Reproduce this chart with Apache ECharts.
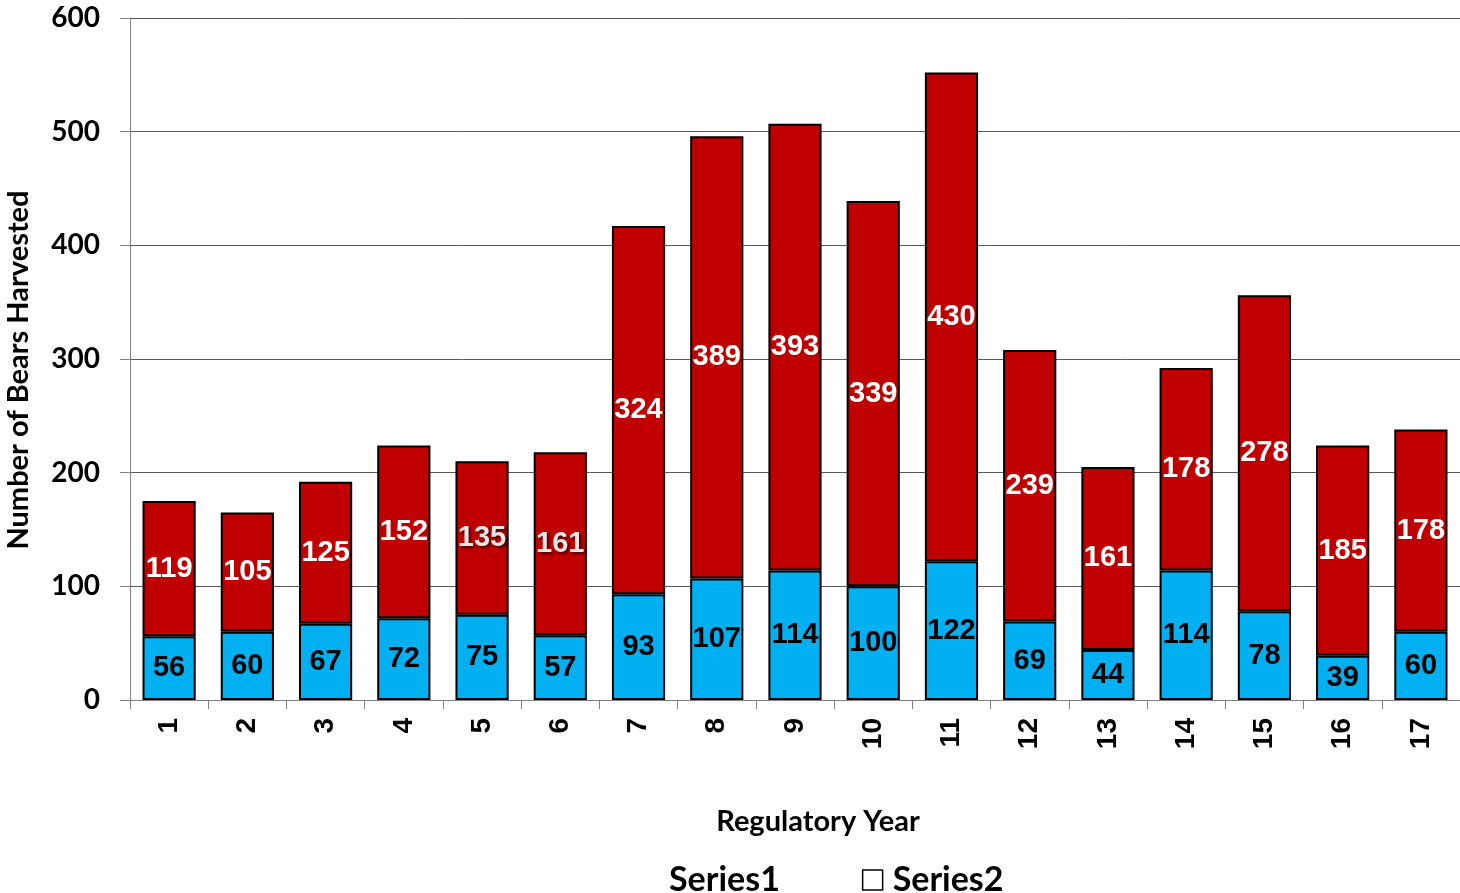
<!DOCTYPE html>
<html>
<head>
<meta charset="utf-8">
<script src="https://cdn.jsdelivr.net/npm/echarts@6/dist/echarts.min.js"></script>
<style>
html,body{margin:0;padding:0;background:#fff;}
#chart{width:1460px;height:893px;}
</style>
</head>
<body>
<div id="chart"></div>
<script>
const categories = ['1','2','3','4','5','6','7','8','9','10','11','12','13','14','15','16','17'];
const series1Values = [56,60,67,72,75,57,93,107,114,100,122,69,44,114,78,39,60];
const series2Values = [119,105,125,152,135,161,324,389,393,339,430,239,161,178,278,185,178];
const yTicks = [0,100,200,300,400,500,600];
const shadowedLabels = [4,5];

const titleFont = 'Lato';
const labelFont = 'Liberation Sans';

const chart = echarts.init(document.getElementById('chart'));

const series2Data = series2Values.map((v, i) => {
  if (shadowedLabels.includes(i)) {
    return {value: v, label: {color: '#e6e6e6', textShadowColor: 'rgba(0,0,0,0.6)', textShadowBlur: 3, textShadowOffsetX: 2, textShadowOffsetY: 2}};
  }
  return v;
});

chart.setOption({
  animation: false,
  backgroundColor: '#fff',
  grid: {left: 130, right: 0, top: 18, bottom: 193, containLabel: false},
  title: {
    text: 'Regulatory Year', left: 813, top: 802, textAlign: 'center',
    textStyle: {fontFamily: titleFont, fontWeight: 'bold', fontSize: 29, color: '#000'}
  },
  legend: {
    left: 634, top: 858,
    itemWidth: 20, itemHeight: 20, itemGap: 82,
    textStyle: {fontFamily: titleFont, fontWeight: 'bold', fontSize: 34, color: '#000', padding: [0, 0, 0, 5]},
    data: [
      {name: 'Series1', icon: 'rect', itemStyle: {opacity: 0, borderWidth: 0}},
      {name: 'Series2', icon: 'rect', itemStyle: {color: '#fff', borderColor: '#000', borderWidth: 1.5}}
    ]
  },
  xAxis: {
    type: 'category',
    data: categories,
    axisLine: {lineStyle: {color: '#808080', width: 1}},
    axisTick: {show: true, alignWithLabel: false, length: 9, lineStyle: {color: '#808080'}},
    axisLabel: {rotate: 90, margin: 18, fontFamily: labelFont, fontWeight: 'bold', fontSize: 28, color: '#000'}
  },
  yAxis: {
    type: 'value',
    min: yTicks[0], max: yTicks[yTicks.length - 1], interval: 100,
    axisLine: {show: true, lineStyle: {color: '#808080', width: 1}},
    axisTick: {show: true, length: 10, lineStyle: {color: '#808080'}},
    axisLabel: {margin: 30, fontFamily: titleFont, fontWeight: 'bold', fontSize: 28, color: '#000'},
    splitLine: {show: true, lineStyle: {color: '#595959', width: 1}}
  },
  graphic: [
    {type: 'text', x: 19, y: 370, rotation: Math.PI / 2,
     style: {text: 'Number of Bears Harvested', align: 'center', verticalAlign: 'middle',
             font: 'bold 29px Lato', fill: '#000'}}
  ],
  series: [
    {
      name: 'Series1', type: 'bar', stack: 'total', barWidth: '68%',
      data: series1Values,
      itemStyle: {color: '#00B0F0', borderColor: '#000', borderWidth: 2},
      label: {show: true, position: 'inside', color: '#000', fontFamily: labelFont, fontWeight: 'bold', fontSize: 29}
    },
    {
      name: 'Series2', type: 'bar', stack: 'total', barWidth: '68%',
      data: series2Data,
      itemStyle: {color: '#C00000', borderColor: '#000', borderWidth: 2},
      label: {show: true, position: 'inside', color: '#fff', fontFamily: labelFont, fontWeight: 'bold', fontSize: 29}
    }
  ]
});
</script>
</body>
</html>
